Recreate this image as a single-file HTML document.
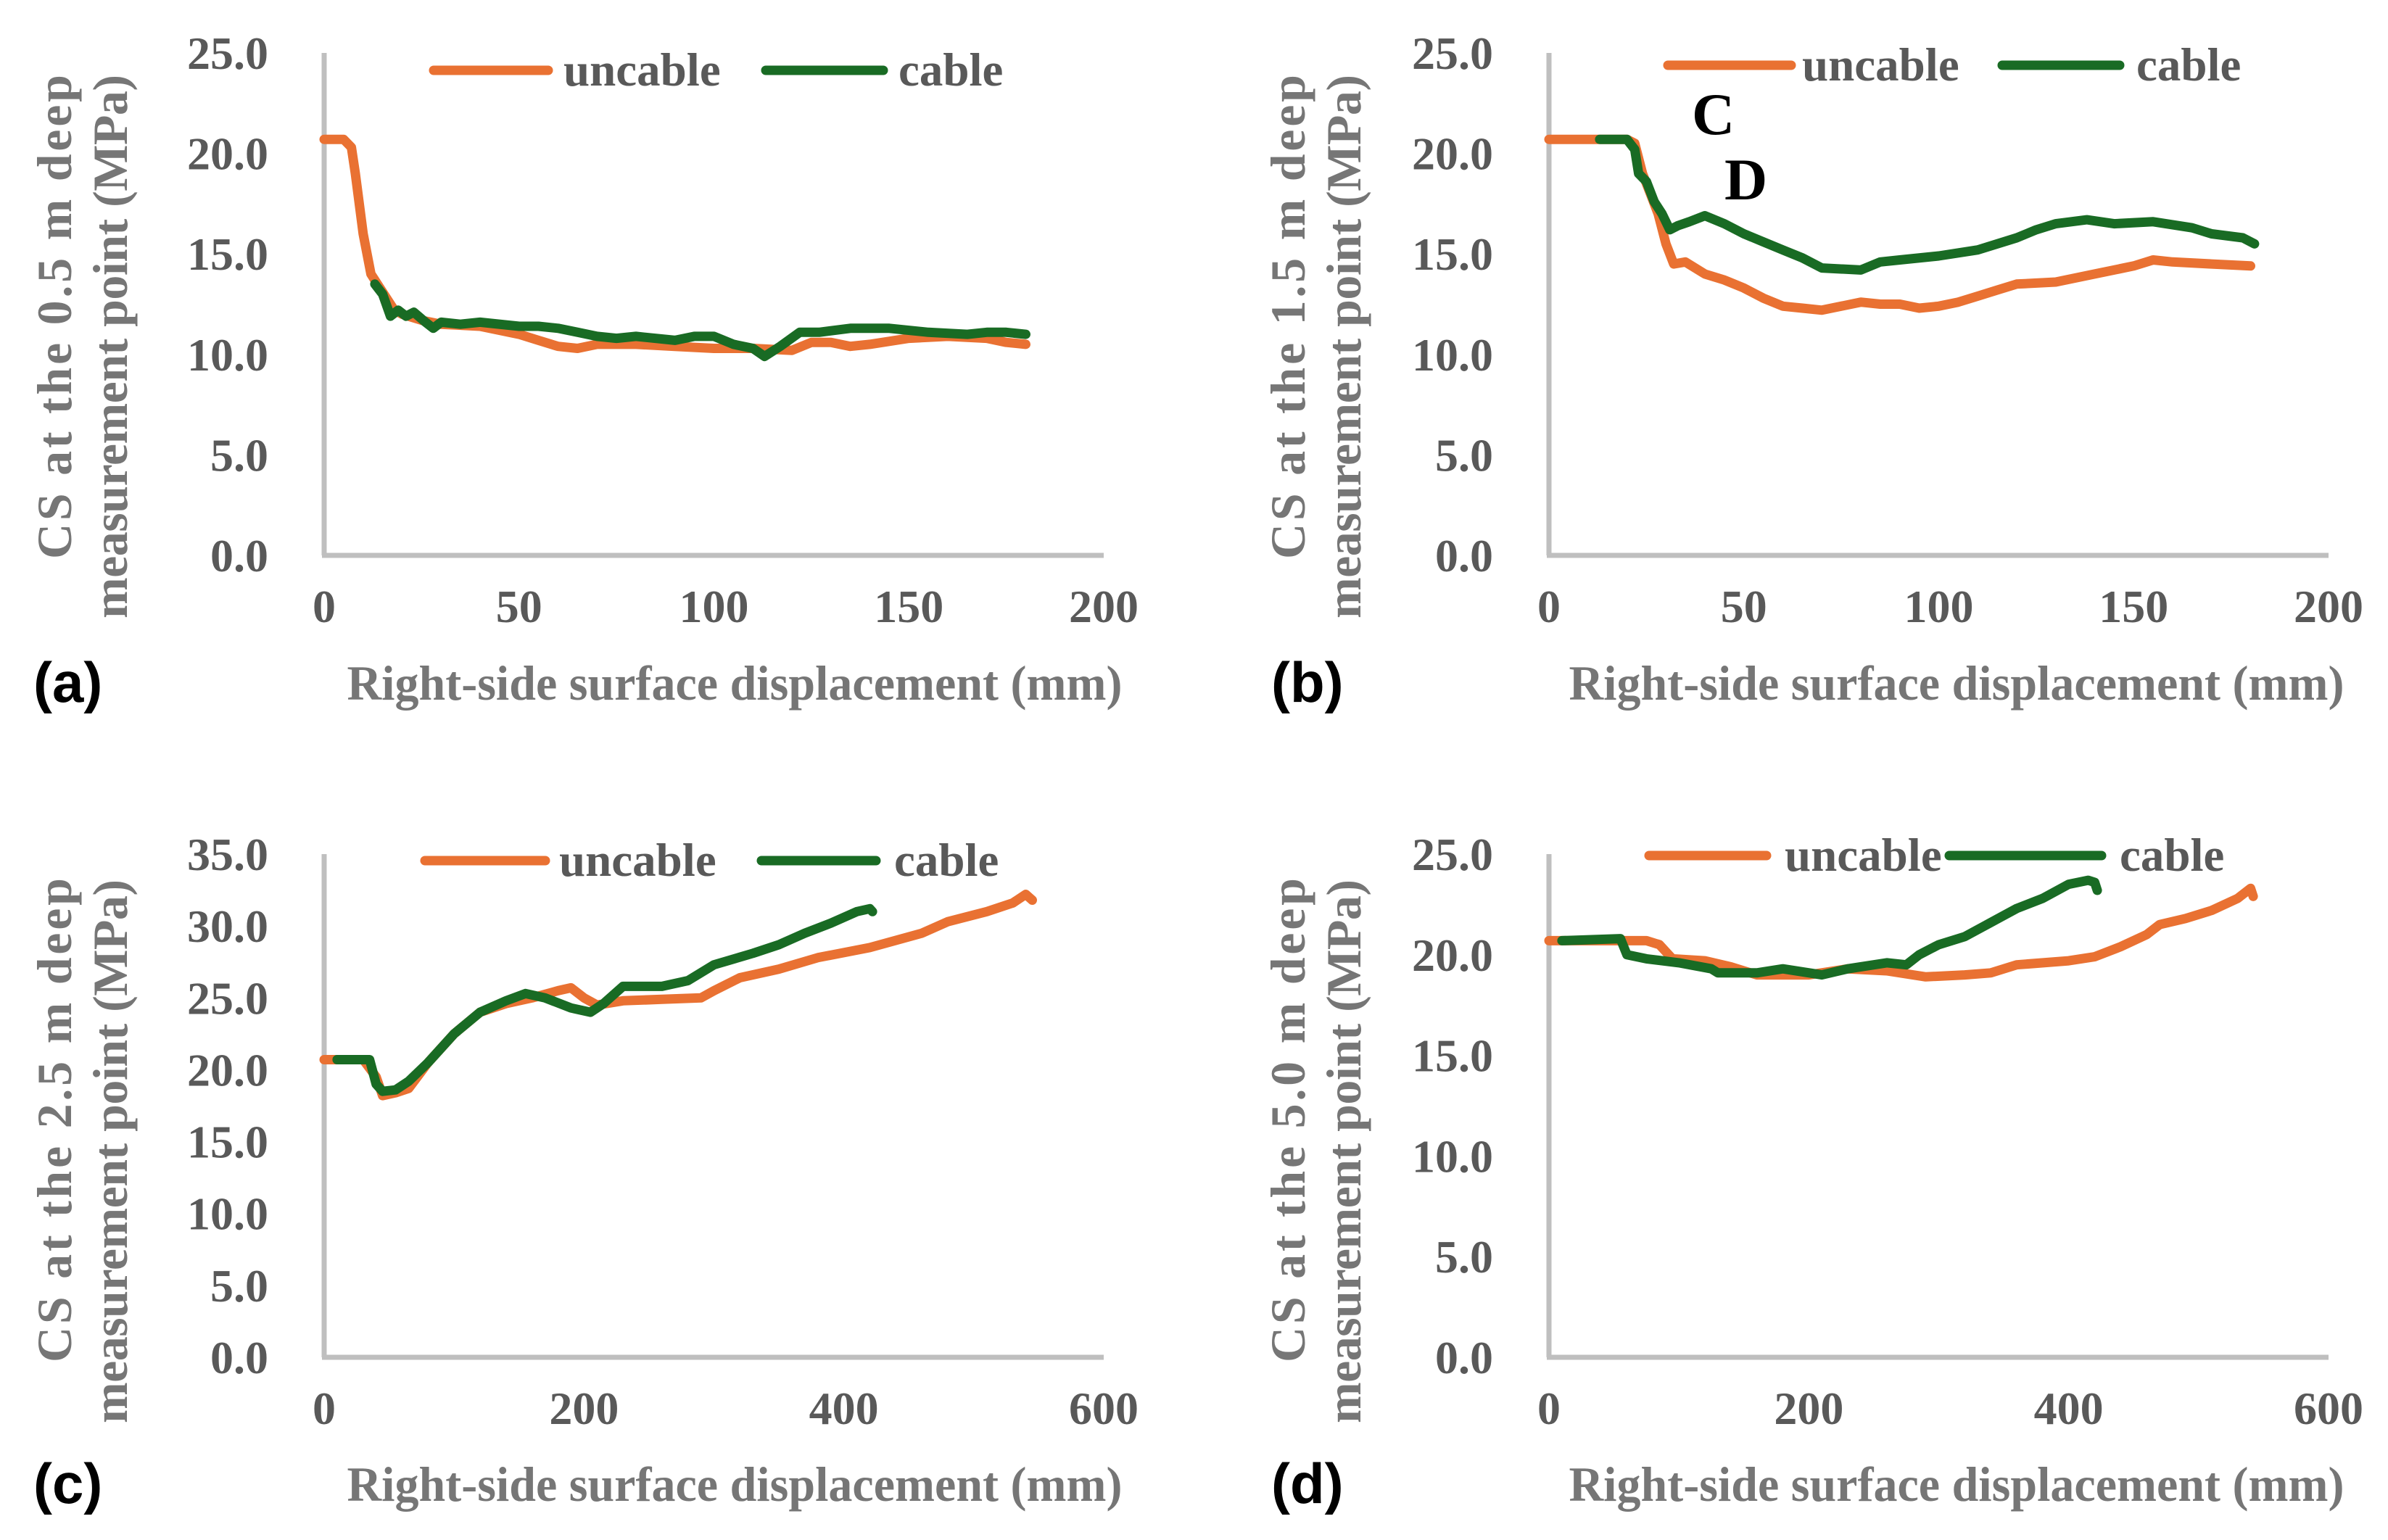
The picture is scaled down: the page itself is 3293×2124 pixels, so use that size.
<!DOCTYPE html>
<html><head><meta charset="utf-8">
<style>
html,body{margin:0;padding:0;background:#fff;}
svg{display:block;}
text{font-family:"Liberation Serif",serif;font-weight:bold;}
</style></head>
<body>
<svg id="fig" width="3293" height="2124" viewBox="0 0 3293 2124" xmlns="http://www.w3.org/2000/svg"></svg>
<script>
// Panel (a) data
const aUncX=[0,5,7,8,10,12,14,16,18,20,25,30,40,50,55,60,65,70,80,90,100,110,120,125,130,135,140,150,160,170,175,180];
const aUncY=[20.7,20.7,20.3,19,16,14,13.4,12.8,12.2,12,11.7,11.5,11.4,11.0,10.7,10.4,10.3,10.5,10.5,10.4,10.3,10.3,10.2,10.6,10.6,10.4,10.5,10.8,10.9,10.8,10.6,10.5];
const aCabX=[13,15,17,19,21,23,26,28,30,35,40,50,55,60,65,70,75,80,90,95,100,105,110,113,117,122,127,135,145,155,165,170,175,180];
const aCabY=[13.5,13.0,11.9,12.2,11.9,12.1,11.6,11.3,11.6,11.5,11.6,11.4,11.4,11.3,11.1,10.9,10.8,10.9,10.7,10.9,10.9,10.5,10.3,9.9,10.4,11.1,11.1,11.3,11.3,11.1,11.0,11.1,11.1,11.0];
// Panel (b) data
const bUncX=[0,20,22,24,26,28,30,32,35,40,45,50,55,60,65,70,75,80,85,90,95,100,105,110,115,120,130,140,150,155,160,170,180];
const bUncY=[20.7,20.7,20.5,19,18,17,15.5,14.5,14.6,14.0,13.7,13.3,12.8,12.4,12.3,12.2,12.4,12.6,12.5,12.5,12.3,12.4,12.6,12.9,13.2,13.5,13.6,14.0,14.4,14.7,14.6,14.5,14.4];
const bCabX=[13,20,22,23,25,27,29,31,33,36,40,45,50,55,60,65,70,80,85,90,100,110,120,125,130,138,145,155,165,170,178,181];
const bCabY=[20.7,20.7,20.2,19,18.6,17.6,17.0,16.2,16.4,16.6,16.9,16.5,16.0,15.6,15.2,14.8,14.3,14.2,14.6,14.7,14.9,15.2,15.8,16.2,16.5,16.7,16.5,16.6,16.3,16.0,15.8,15.5];
// Panel (c) data
const cUncX=[0,30,40,45,55,65,80,100,120,140,160,180,190,200,210,230,260,290,300,320,350,380,420,460,480,510,530,540,545];
const cUncY=[20.7,20.7,19.5,18.2,18.4,18.7,20.5,22.5,24,24.6,25,25.5,25.7,25,24.5,24.8,24.9,25,25.5,26.4,27.0,27.8,28.5,29.5,30.3,31,31.6,32.2,31.8];
const cCabX=[10,35,40,45,55,65,80,100,120,140,155,170,190,205,215,230,260,280,300,330,350,370,390,410,420,422];
const cCabY=[20.7,20.7,19,18.5,18.6,19.2,20.5,22.5,24,24.8,25.3,25,24.3,24,24.6,25.8,25.8,26.2,27.3,28.1,28.7,29.5,30.2,31.0,31.2,31.0];
// Panel (d) data
const dUncX=[0,75,85,95,120,140,160,180,200,230,260,290,320,340,360,400,420,440,460,470,490,510,530,540,542];
const dUncY=[20.7,20.7,20.5,19.8,19.7,19.4,19.0,19.0,19.0,19.3,19.2,18.9,19.0,19.1,19.5,19.7,19.9,20.4,21,21.5,21.8,22.2,22.8,23.3,22.9];
const dCabX=[10,55,60,75,100,125,130,160,180,210,230,260,275,285,300,320,340,360,380,400,415,420,422];
const dCabY=[20.7,20.8,20.0,19.8,19.6,19.3,19.1,19.1,19.3,19.0,19.3,19.6,19.5,20,20.5,20.9,21.6,22.3,22.8,23.5,23.7,23.6,23.2];
// tick labels
const yTicksA=[0,5,10,15,20,25];
const yTicksC=[0,5,10,15,20,25,30,35];
const xTicksAB=[0,50,100,150,200];
const xTicksCD=[0,200,400,600];

const NS="http://www.w3.org/2000/svg";
const svg=document.getElementById('fig');
function el(tag,attrs,parent){const e=document.createElementNS(NS,tag);for(const k in attrs)e.setAttribute(k,attrs[k]);(parent||svg).appendChild(e);return e;}

const ORANGE="#e97132", GREEN="#196b24";
const panels=[
 {id:'a',L:447,R:1522,T:73,B:766,xmax:200,ymax:25,xt:xTicksAB,yt:yTicksA,unc:[aUncX,aUncY],cab:[aCabX,aCabY],
  leg:{ol:[598,756],ot:777,gl:[1056,1218],gt:1239,y:97},title1:'CS at the 0.5 m deep',t1x:74,t1y:437,t2x:151,t2y:478,xtitleY:965,tick0Y:858,lab:[46,968]},
 {id:'b',L:2136,R:3211,T:73,B:766,xmax:200,ymax:25,xt:xTicksAB,yt:yTicksA,unc:[bUncX,bUncY],cab:[bCabX,bCabY],
  leg:{ol:[2300,2470],ot:2485,gl:[2761,2923],gt:2946,y:90},title1:'CS at the 1.5 m deep',t1x:1775,t1y:437,t2x:1852,t2y:478,xtitleY:965,tick0Y:858,lab:[1753,968]},
 {id:'c',L:447,R:1522,T:1178,B:1872,xmax:600,ymax:35,xt:xTicksCD,yt:yTicksC,unc:[cUncX,cUncY],cab:[cCabX,cCabY],
  leg:{ol:[586,752],ot:771,gl:[1050,1208],gt:1233,y:1187},title1:'CS at the 2.5 m deep',t1x:74,t1y:1545,t2x:151,t2y:1588,xtitleY:2070,tick0Y:1964,lab:[46,2073]},
 {id:'d',L:2136,R:3211,T:1178,B:1872,xmax:600,ymax:25,xt:xTicksCD,yt:yTicksA,unc:[dUncX,dUncY],cab:[dCabX,dCabY],
  leg:{ol:[2274,2436],ot:2461,gl:[2688,2898],gt:2923,y:1180},title1:'CS at the 5.0 m deep',t1x:1775,t1y:1545,t2x:1852,t2y:1588,xtitleY:2070,tick0Y:1964,lab:[1753,2073]}
];

panels.forEach(p=>{
  const g=el('g',{});
  
  
  const sx=v=>p.L+(v/p.xmax)*(p.R-p.L);
  const sy=v=>p.B-(v/p.ymax)*(p.B-p.T);
  const ya=el('line',{x1:p.L,y1:p.T,x2:p.L,y2:p.B,stroke:'#bfbfbf','stroke-width':7},g);
  
  
  const xa=el('line',{x1:p.L-3,y1:p.B,x2:p.R,y2:p.B,stroke:'#bfbfbf','stroke-width':7},g);
  
  
  p.yt.forEach(v=>{
    const t=el('text',{x:p.L-77,y:sy(v)+22,'text-anchor':'end','font-size':64,fill:'#595959'},g);
    t.textContent=v.toFixed(1);
    
    
  });
  p.xt.forEach(v=>{
    const t=el('text',{x:sx(v),y:p.tick0Y,'text-anchor':'middle','font-size':64,fill:'#595959'},g);
    t.textContent=String(v);
    
    
  });
  const xt=el('text',{x:(p.id==='a'||p.id==='c')?1013:2698,y:p.xtitleY,'text-anchor':'middle','font-size':68,fill:'#767676',textLength:1069,lengthAdjust:'spacingAndGlyphs'},g);
  xt.textContent='Right-side surface displacement (mm)';
  
  
  const t1=el('text',{x:0,y:0,'text-anchor':'middle','font-size':68,fill:'#767676',textLength:668,lengthAdjust:'spacing',transform:`translate(${p.t1x+24},${p.t1y}) rotate(-90)`},g);
  t1.textContent=p.title1;
  
  
  const t2=el('text',{x:0,y:0,'text-anchor':'middle','font-size':68,fill:'#767676',textLength:750,lengthAdjust:'spacing',transform:`translate(${p.t2x+24},${p.t2y}) rotate(-90)`},g);
  t2.textContent='measurement point (MPa)';
  
  
  [['uncable',p.unc,ORANGE],['cable',p.cab,GREEN]].forEach(s=>{
    const xs=s[1][0], ys=s[1][1];
    const d=xs.map((x,i)=>(i?'L':'M')+sx(x).toFixed(1)+' '+sy(ys[i]).toFixed(1)).join(' ');
    const path=el('path',{d:d,fill:'none',stroke:s[2],'stroke-width':13,'stroke-linejoin':'round','stroke-linecap':'round'},g);
    
    
  });
  const lg=p.leg;
  const l1=el('line',{x1:lg.ol[0],y1:lg.y,x2:lg.ol[1],y2:lg.y,stroke:ORANGE,'stroke-width':13,'stroke-linecap':'round'},g);
  
  
  const lt1=el('text',{x:lg.ot,y:lg.y+21,'font-size':65,fill:'#595959'},g);
  lt1.textContent='uncable';
  
  
  const l2=el('line',{x1:lg.gl[0],y1:lg.y,x2:lg.gl[1],y2:lg.y,stroke:GREEN,'stroke-width':13,'stroke-linecap':'round'},g);
  
  
  const lt2=el('text',{x:lg.gt,y:lg.y+21,'font-size':65,fill:'#595959'},g);
  lt2.textContent='cable';
  
  
  const pl=el('text',{x:p.lab[0],y:p.lab[1],'font-size':78,fill:'#000','style':'font-family:"Liberation Sans",sans-serif;font-weight:bold'},g);
  pl.textContent='('+p.id+')';
  
  
});
const c=el('text',{x:2333,y:185,'font-size':82,fill:'#000'});
c.textContent='C';


const dd=el('text',{x:2378,y:275,'font-size':82,fill:'#000'});
dd.textContent='D';


</script>
</body></html>
